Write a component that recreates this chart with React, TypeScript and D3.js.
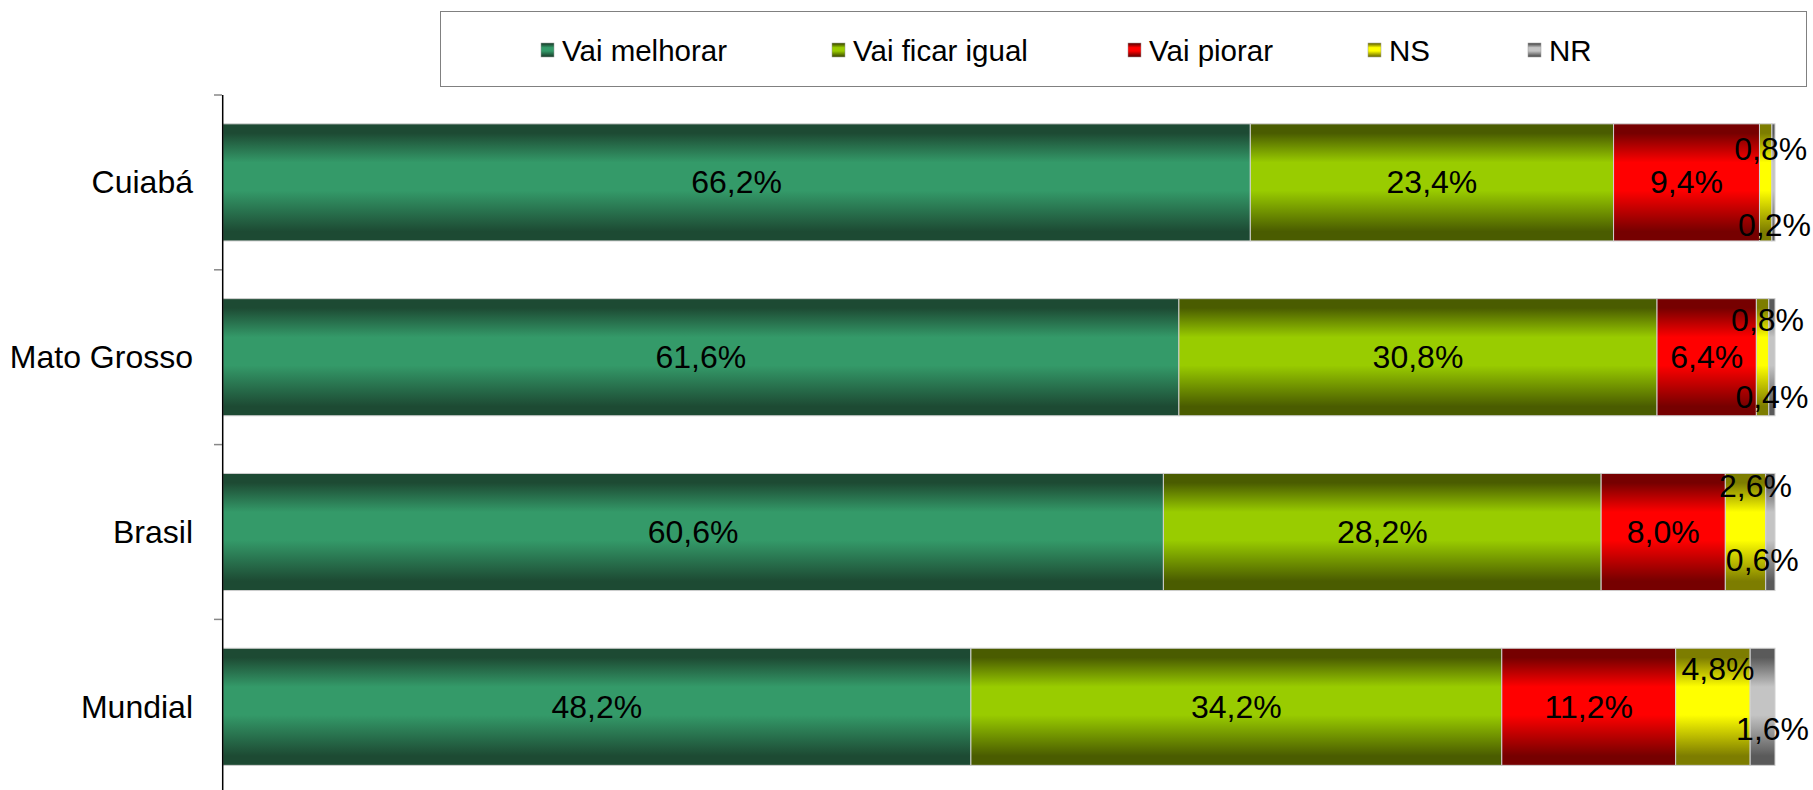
import React from "react";
import * as d3 from "d3";

const categories = ["Cuiabá", "Mato Grosso", "Brasil", "Mundial"];
const seriesNames = ["Vai melhorar", "Vai ficar igual", "Vai piorar", "NS", "NR"];
const vaiMelhorar = [66.2, 61.6, 60.6, 48.2];
const vaiFicarIgual = [23.4, 30.8, 28.2, 34.2];
const vaiPiorar = [9.4, 6.4, 8.0, 11.2];
const ns = [0.8, 0.8, 2.6, 4.8];
const nr = [0.2, 0.4, 0.6, 1.6];

const seriesValues = [vaiMelhorar, vaiFicarIgual, vaiPiorar, ns, nr];

// styles: [dark, light]
const gradColors: [string, string][] = [
  ["#1d4a33", "#349a69"],
  ["#4a5c00", "#99cc00"],
  ["#760000", "#ff0000"],
  ["#7d7d00", "#ffff00"],
  ["#5a5a5a", "#c4c4c4"],
];

// label nudges for the small segments (layout only)
const nsNudge = [
  [5, -33],
  [5, -37],
  [10, -46],
  [5, -38],
];
const nrNudge = [
  [1, 43],
  [0, 40],
  [-8, 28],
  [10, 22],
];

const W = 1813;
const H = 790;
const fmt = (v: number) => v.toFixed(1).replace(".", ",") + "%";

export default function App() {
  React.useEffect(() => {
    document.body.style.margin = "0";
    document.body.style.overflow = "hidden";
  }, []);

  const x = d3.scaleLinear().domain([0, 100]).range([222.7, 1775]);
  const y = d3
    .scaleBand<string>()
    .domain(categories)
    .range([95, 95 + 4 * 174.8])
    .paddingInner(0.33)
    .paddingOuter(0.165);

  const stackData = categories.map((c, i) => {
    const row: any = { cat: c };
    seriesNames.forEach((s, j) => (row[s] = seriesValues[j][i]));
    return row;
  });
  const stacked = d3.stack<any>().keys(seriesNames)(stackData);

  const font = "'Liberation Sans', Arial, sans-serif";
  const legendX = [541, 832, 1128, 1368, 1528];
  const ticks = d3.range(categories.length + 1).map((i) => 95 + i * y.step());

  return (
    <svg width={W} height={H} style={{ position: "absolute", left: 0, top: 0, display: "block" }} fontFamily={font}>
      <defs>
        {gradColors.map(([dark, light], i) => (
          <linearGradient key={i} id={`g${i}`} x1="0" y1="0" x2="0" y2="1">
            <stop offset="0" stopColor={dark} />
            <stop offset="0.08" stopColor={dark} />
            <stop offset="0.33" stopColor={light} />
            <stop offset="0.57" stopColor={light} />
            <stop offset="0.92" stopColor={dark} />
            <stop offset="1" stopColor={dark} />
          </linearGradient>
        ))}
      </defs>
      <rect width={W} height={H} fill="#fff" />

      {/* legend */}
      <rect x={440.5} y={11.5} width={1366} height={75} fill="#fff" stroke="#808080" strokeWidth={1} />
      {seriesNames.map((s, i) => (
        <g key={s}>
          <rect x={legendX[i]} y={43} width={13} height={14} fill={`url(#g${i})`} stroke="#999" strokeWidth={0.5} />
          <text x={legendX[i] + 21} y={50} dominantBaseline="central" fontSize={29.5} fill="#000">
            {s}
          </text>
        </g>
      ))}

      {/* bars */}
      {stacked.map((layer, si) =>
        layer.map((d, ci) => {
          const cat = categories[ci];
          return (
            <rect
              key={`${si}-${ci}`}
              x={x(d[0])}
              y={y(cat)!}
              width={x(d[1]) - x(d[0])}
              height={y.bandwidth()}
              fill={`url(#g${si})`}
              stroke="#d0d0d0"
              strokeWidth={1}
            />
          );
        })
      )}

      {/* axis */}
      <line x1={222.7} x2={222.7} y1={ticks[0]} y2={H} stroke="#000" strokeWidth={1.5} />
      {ticks.map((t, i) => (
        <line key={i} x1={214} x2={222} y1={t} y2={t} stroke="#888" strokeWidth={1.5} />
      ))}
      {categories.map((c) => (
        <text
          key={c}
          x={193}
          y={y(c)! + y.bandwidth() / 2}
          textAnchor="end"
          dominantBaseline="central"
          fontSize={32}
          fill="#000"
        >
          {c}
        </text>
      ))}

      {/* labels */}
      {stacked.map((layer, si) =>
        layer.map((d, ci) => {
          const cat = categories[ci];
          const cx = (x(d[0]) + x(d[1])) / 2;
          const cy = y(cat)! + y.bandwidth() / 2;
          let dx = 0,
            dy = 0;
          if (si === 3) [dx, dy] = nsNudge[ci];
          if (si === 4) [dx, dy] = nrNudge[ci];
          return (
            <text
              key={`l${si}-${ci}`}
              x={cx + dx}
              y={cy + dy}
              textAnchor="middle"
              dominantBaseline="central"
              fontSize={32}
              fill="#000"
            >
              {fmt(d[1] - d[0])}
            </text>
          );
        })
      )}
    </svg>
  );
}
